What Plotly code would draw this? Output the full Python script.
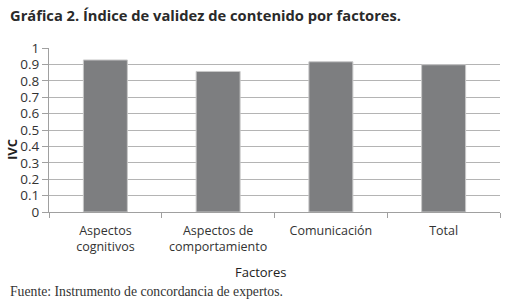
import plotly.graph_objects as go

categories = ["Aspectos<br>cognitivos", "Aspectos de<br>comportamiento", "Comunicación", "Total"]
values = [0.927, 0.857, 0.916, 0.898]
y_ticks = [0, 0.1, 0.2, 0.3, 0.4, 0.5, 0.6, 0.7, 0.8, 0.9, 1]
y_tick_text = ["0", "0.1", "0.2", "0.3", "0.4", "0.5", "0.6", "0.7", "0.8", "0.9", "1"]

W, H = 511, 305
L, R, T, B = 49, 11, 48, 93
PW, PH = W - L - R, H - T - B


def px2paper(px, py):
    return (px - L) / PW, 1 - (py - T) / PH


fig = go.Figure()
fig.add_trace(go.Bar(
    x=categories, y=values, width=0.39,
    marker=dict(color="#7d7e80", line=dict(color="#c8c8c8", width=1)),
))

tx, ty = px2paper(8, 15)
fx, fy = px2paper(8, 291)
ax_, ay_ = px2paper(260, 272)
ix, iy = px2paper(12, 150)

fig.update_layout(
    width=W, height=H,
    margin=dict(l=L, r=R, t=T, b=B, autoexpand=False),
    paper_bgcolor="white", plot_bgcolor="white",
    showlegend=False,
    font=dict(family="Open Sans", color="#333333"),
    annotations=[
        dict(text="<b>Gráfica 2. Índice de validez de contenido por factores.</b>",
             x=tx, y=ty, xref="paper", yref="paper", showarrow=False,
             xanchor="left", yanchor="middle",
             font=dict(family="Open Sans", size=14.7, color="#2a2a2a")),
        dict(text="Fuente: Instrumento de concordancia de expertos.",
             x=fx, y=fy, xref="paper", yref="paper", showarrow=False,
             xanchor="left", yanchor="middle",
             font=dict(family="Liberation Serif", size=13.7, color="#333333")),
        dict(text="Factores",
             x=ax_, y=ay_, xref="paper", yref="paper", showarrow=False,
             xanchor="center", yanchor="middle",
             font=dict(family="Open Sans", size=13, color="#222222")),
        dict(text="<b>IVC</b>", textangle=-90,
             x=ix, y=iy, xref="paper", yref="paper", showarrow=False,
             xanchor="center", yanchor="middle",
             font=dict(family="Open Sans", size=13, color="#222222")),
    ],
)

fig.update_xaxes(
    automargin=False,
    showline=True, linecolor="#a0a0a0", linewidth=1,
    ticks="outside", ticklen=5, tickcolor="#a0a0a0", tickson="boundaries",
    ticklabelstandoff=7,
    tickfont=dict(family="Open Sans", size=12.5, color="#333333"),
    showgrid=False,
)
fig.update_yaxes(
    automargin=False,
    range=[0, 1], tickvals=y_ticks, ticktext=y_tick_text,
    showline=True, linecolor="#a0a0a0", linewidth=1,
    ticks="outside", ticklen=6, tickcolor="#a0a0a0",
    showgrid=True, gridcolor="#b4b4b4", gridwidth=1,
    tickfont=dict(family="Open Sans", size=13.5, color="#333333"),
    zeroline=False,
)

fig.write_html("out.html", config={"displayModeBar": False})

# remove the default page margin so the figure sits at the window's corner
with open("out.html", "r", encoding="utf-8") as f:
    html = f.read()
html = html.replace("<head>", "<head><style>html,body{margin:0;padding:0;overflow:hidden;}</style>", 1)
with open("out.html", "w", encoding="utf-8") as f:
    f.write(html)
